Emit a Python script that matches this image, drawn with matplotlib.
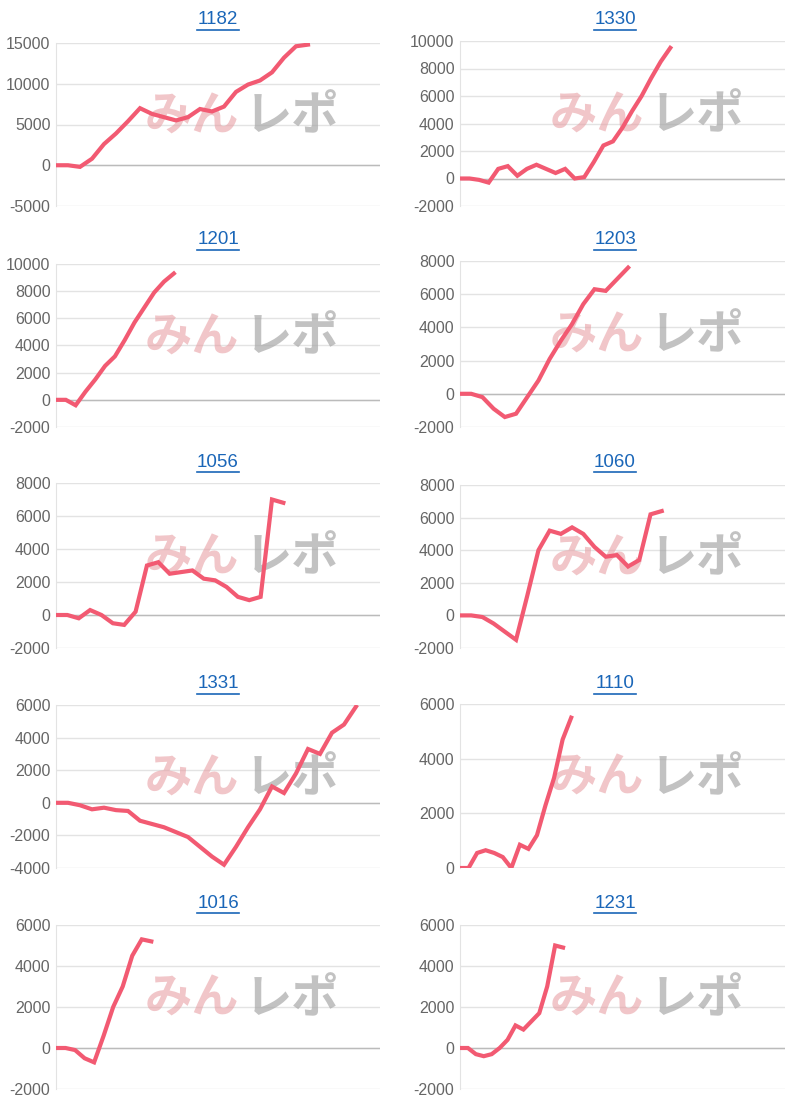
import matplotlib
matplotlib.use("Agg")
import matplotlib.pyplot as plt
from matplotlib.ticker import MultipleLocator

plt.rcParams["axes.unicode_minus"] = False
plt.rcParams["font.family"] = ["Liberation Sans", "DejaVu Sans"]

titles = ["1182", "1330", "1201", "1203", "1056", "1060", "1331", "1110", "1016", "1231"]
s1182 = [0, 0, -200, 800, 2600, 3900, 5400, 7000, 6300, 5900, 5500, 5900, 6900, 6600, 7200, 9000, 9900, 10400, 11400, 13200, 14600, 14800]
s1330 = [0, 0, -100, -300, 700, 900, 200, 700, 1000, 700, 400, 700, 0, 100, 1200, 2400, 2700, 3700, 4900, 6000, 7300, 8500, 9500]
s1201 = [0, 0, -400, 600, 1500, 2500, 3200, 4400, 5700, 6800, 7900, 8700, 9300]
s1203 = [0, 0, -200, -900, -1400, -1200, -200, 800, 2100, 3200, 4200, 5400, 6300, 6200, 6900, 7600]
s1056 = [0, 0, -200, 300, 0, -500, -600, 200, 3000, 3200, 2500, 2600, 2700, 2200, 2100, 1700, 1100, 900, 1100, 7000, 6800]
s1060 = [0, 0, -100, -500, -1000, -1500, 1200, 4000, 5200, 5000, 5400, 5000, 4200, 3600, 3700, 3000, 3400, 6200, 6400]
s1331 = [0, 0, -150, -400, -300, -450, -500, -1100, -1300, -1500, -1800, -2100, -2700, -3300, -3800, -2700, -1500, -400, 1000, 600, 1800, 3300, 3000, 4300, 4800, 5900]
s1110 = [0, 0, 550, 650, 550, 400, 0, 850, 700, 1200, 2300, 3300, 4700, 5500]
s1016 = [0, 0, -100, -500, -700, 600, 2000, 3000, 4500, 5300, 5200]
s1231 = [0, 0, -300, -400, -300, 0, 400, 1100, 900, 1300, 1700, 3000, 5000, 4900]
series = [s1182, s1330, s1201, s1203, s1056, s1060, s1331, s1110, s1016, s1231]
ylims = [(-5000, 15000), (-2000, 10000), (-2000, 10000), (-2000, 8000), (-2000, 8000),
         (-2000, 8000), (-4000, 6000), (0, 6000), (-2000, 6000), (-2000, 6000)]
ysteps = [5000, 2000, 2000, 2000, 2000, 2000, 2000, 2000, 2000, 2000]
slots = [27, 34, 33, 29, 28.5, 29, 27, 38, 34, 41]

W, H = 810, 1105
fig = plt.figure(figsize=(W / 100, H / 100), dpi=100)
tops = [43, 41, 264, 261, 483, 485, 705, 704, 925, 925]
bots = [206, 206, 427, 427, 648, 648, 868, 868, 1089, 1089]
for i in range(10):
    col = i % 2
    x0 = 56 if col == 0 else 460
    x1 = 380 if col == 0 else 785
    ax = fig.add_axes([x0 / W, 1 - bots[i] / H, (x1 - x0) / W, (bots[i] - tops[i]) / H])
    ax.plot(range(len(series[i])), series[i], color="#f25a72", lw=3, solid_joinstyle="miter", zorder=3)
    ax.set_xlim(0, slots[i])
    ax.set_ylim(*ylims[i])
    ax.yaxis.set_major_locator(MultipleLocator(ysteps[i]))
    ax.grid(axis="y", color="#e3e3e3", lw=1)
    ax.axhline(0, color="#bbbbbb", lw=1, zorder=2)
    ax.set_xticks([])
    for s in ["top", "right", "bottom"]:
        ax.spines[s].set_visible(False)
    ax.spines["left"].set_color("#e3e3e3")
    ax.tick_params(axis="y", length=0, labelsize=11.5, labelcolor="#666666", pad=4)
    ax.set_axisbelow(True)
    ax.text(0.42, 0.55, "みん", transform=ax.transAxes, ha="center", va="center",
            fontsize=34, fontweight="bold", color="#e8a0a5", alpha=0.6,
            family=["Noto Sans CJK JP", "DejaVu Sans"], zorder=1)
    ax.text(0.73, 0.55, "レポ", transform=ax.transAxes, ha="center", va="center",
            fontsize=34, fontweight="bold", color="#a8a8a8", alpha=0.7,
            family=["Noto Sans CJK JP", "DejaVu Sans"], zorder=1)
    cx = (218 if col == 0 else 615) / W
    ty = [20, 240, 462, 684, 903][i // 2]
    fig.text(cx, 1 - ty / H, titles[i], ha="center", va="center", fontsize=13.5, color="#1a66b8")
    fig.lines.append(plt.Line2D([cx - 21 / W, cx + 21 / W], [1 - (ty + 10) / H] * 2,
                                color="#1a66b8", lw=1.2, transform=fig.transFigure, figure=fig))

fig.savefig("out.png", dpi=100, facecolor="white")
